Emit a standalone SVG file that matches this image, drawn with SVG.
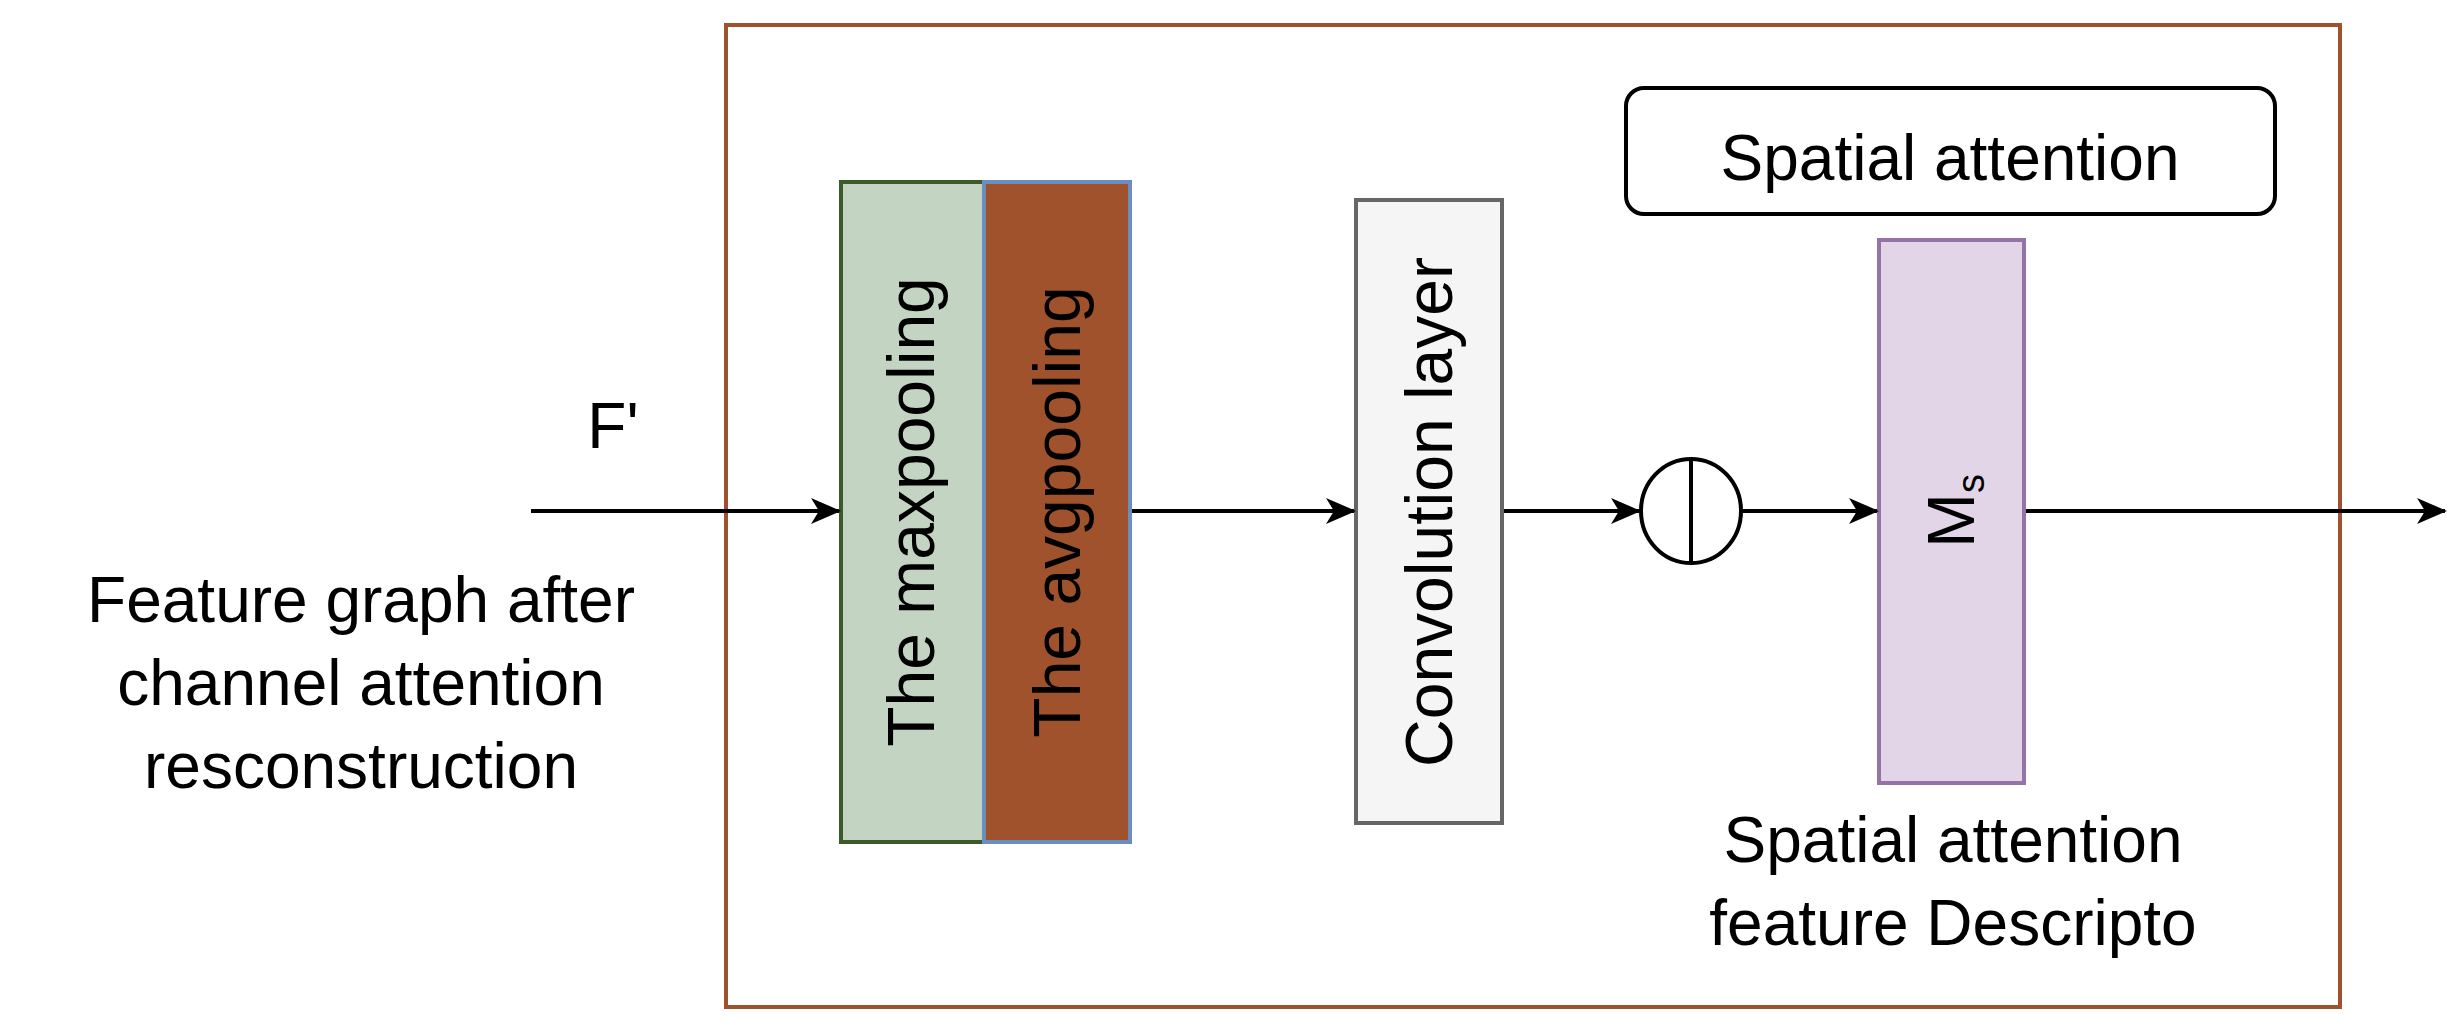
<svg xmlns="http://www.w3.org/2000/svg" width="2464" height="1034" viewBox="0 0 2464 1034">
<defs>
<marker id="ah" markerWidth="30" markerHeight="26" refX="28" refY="13" orient="auto" markerUnits="userSpaceOnUse" viewBox="0 0 30 26"><path d="M0,0 L30,13 L0,26 L8,13 Z" fill="#000"/></marker>
<style>
text{font-family:"Liberation Sans","DejaVu Sans",sans-serif;fill:#000;text-anchor:middle}
.t{font-size:64px}
.r{font-size:66px}
.l{stroke:#000;stroke-width:4;fill:none;marker-end:url(#ah)}
</style>
</defs>
<rect width="2464" height="1034" fill="#fff"/>
<g id="frame"><rect x="726" y="25" width="1614" height="982" fill="none" stroke="#A0522D" stroke-width="4"/></g>
<g id="maxpool"><rect x="841" y="182" width="143" height="660" fill="#C3D5C2" stroke="#3A5A2A" stroke-width="4"/><text class="r" transform="translate(934,512) rotate(-90)">The maxpooling</text></g>
<g id="avgpool"><rect x="984" y="182" width="146" height="660" fill="#A0522D" stroke="#6C8EBF" stroke-width="4"/><text class="r" transform="translate(1080,512) rotate(-90)">The avgpooling</text></g>
<g id="conv"><rect x="1356" y="200" width="146" height="623" fill="#F5F5F5" stroke="#666" stroke-width="4"/><text class="r" transform="translate(1452,512) rotate(-90)" fill="#333">Convolution layer</text></g>
<g id="title"><rect x="1626" y="88" width="649" height="126" rx="18" fill="#fff" stroke="#000" stroke-width="4"/><text class="t" x="1950" y="180">Spatial attention</text></g>
<g id="sigmoid"><ellipse cx="1691" cy="511" rx="50" ry="52" fill="#fff" stroke="#000" stroke-width="4"/><line x1="1691" y1="459" x2="1691" y2="563" stroke="#000" stroke-width="4"/></g>
<g id="ms"><rect x="1879" y="240" width="145" height="543" fill="#E1D5E7" stroke="#9673A6" stroke-width="4"/><text class="r" transform="translate(1974,511) rotate(-90)">M<tspan font-size="38" dy="10">s</tspan></text></g>
<g id="labels">
<text class="t" x="613" y="448">F'</text>
<text class="t" x="361" y="622">Feature graph after</text>
<text class="t" x="361" y="705">channel attention</text>
<text class="t" x="361" y="788">resconstruction</text>
<text class="t" x="1953" y="862">Spatial attention</text>
<text class="t" x="1953" y="945">feature Descripto</text>
</g>
<g id="connectors">
<line class="l" x1="531" y1="511" x2="839" y2="511"/>
<line class="l" x1="1132" y1="511" x2="1354" y2="511"/>
<line class="l" x1="1504" y1="511" x2="1639" y2="511"/>
<line class="l" x1="1741" y1="511" x2="1877" y2="511"/>
<line class="l" x1="2026" y1="511" x2="2445" y2="511"/>
</g>
</svg>
